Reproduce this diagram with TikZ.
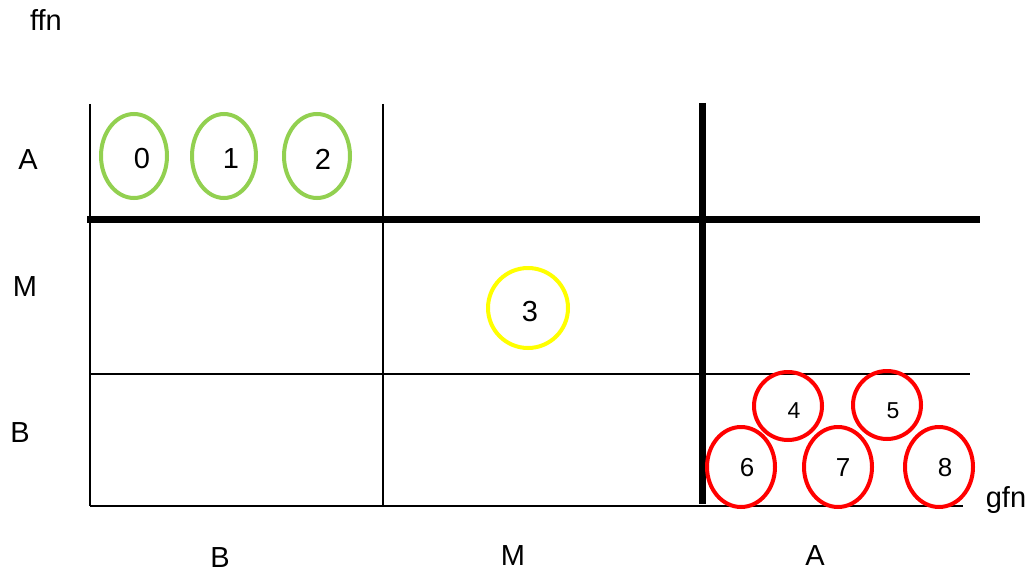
\documentclass[tikz,border=0pt]{standalone}
\usepackage{fontspec}
\setmainfont{Liberation Sans}
\definecolor{lgreen}{HTML}{92D050}
\definecolor{yel}{HTML}{FFFF00}
\definecolor{red1}{HTML}{FF0000}
\begin{document}
\begin{tikzpicture}[x=1pt,y=-1pt,
  thin line/.style={line width=2pt,black},
  thick line/.style={line width=7pt,black},
  lbl/.style={font=\fontsize{29}{33}\selectfont,inner sep=0pt},
  num/.style={font=\fontsize{29}{33}\selectfont,inner sep=0pt},
  midnum/.style={font=\fontsize{26}{30}\selectfont,inner sep=0pt},
  smallnum/.style={font=\fontsize{23}{27}\selectfont,inner sep=0pt},
  rell/.style={draw=red1,line width=4pt},
]
\useasboundingbox (0,0) rectangle (1035,575);
% grid
\coordinate (v1t) at (90,104); \coordinate (v1b) at (90,506);
\coordinate (v2t) at (383,104); \coordinate (v2b) at (383,506);
\coordinate (v3t) at (702,103); \coordinate (v3b) at (702,504);
\coordinate (h1l) at (87,219); \coordinate (h1r) at (980,219);
\coordinate (h2l) at (90,374); \coordinate (h2r) at (970,374);
\coordinate (h3l) at (90,506); \coordinate (h3r) at (963,506);
\draw[thin line] (v1t) -- (v1b);
\draw[thin line] (v2t) -- (v2b);
\draw[thin line] (h2l) -- (h2r);
\draw[thin line] (h3l) -- (h3r);
\draw[thick line] (h1l) -- (h1r);
\draw[thick line] (v3t) -- (v3b);
% green
\draw[draw=lgreen,line width=4pt] (134,156) ellipse [x radius=33, y radius=42];
\draw[draw=lgreen,line width=4pt] (224,156) ellipse [x radius=32, y radius=42];
\draw[draw=lgreen,line width=4pt] (317,156) ellipse [x radius=33, y radius=42];
\node[num] (n0) at (142,159) {0};
\node[num] (n1) at (231,159) {1};
\node[num] (n2) at (323,159) {2};
% yellow
\draw[draw=yel,line width=4pt] (528,308) ellipse [x radius=40, y radius=40];
\node[num] (n3) at (530,312) {3};
% red
\draw[rell] (788,406) ellipse [x radius=34, y radius=34];
\draw[rell] (887,405) ellipse [x radius=34, y radius=34];
\draw[rell] (741,467) ellipse [x radius=34, y radius=40];
\draw[rell] (838,467) ellipse [x radius=34, y radius=40];
\draw[rell] (939,467) ellipse [x radius=34, y radius=40];
\node[smallnum] (n4) at (794,411) {4};
\node[smallnum] (n5) at (893,411) {5};
\node[midnum] (n6) at (747,468) {6};
\node[midnum] (n7) at (843,468) {7};
\node[midnum] (n8) at (945,468) {8};
% labels
\node[lbl] (ffn) at (46,20) {ffn};
\node[lbl] (ya) at (28,160) {A};
\node[lbl] (ym) at (25,287) {M};
\node[lbl] (yb) at (20,433) {B};
\node[lbl] (xb) at (220,558) {B};
\node[lbl] (xm) at (513,556) {M};
\node[lbl] (xa) at (815,556) {A};
\node[lbl] (gfn) at (1006,500) {gfn};
\end{tikzpicture}
\end{document}
